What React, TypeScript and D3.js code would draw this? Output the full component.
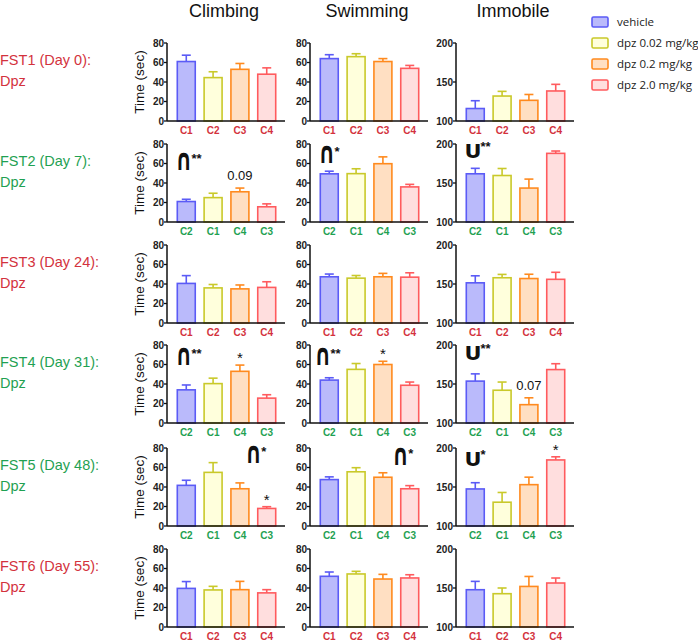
import * as d3 from 'd3';

// --- data ---------------------------------------------------------------
const groups = ['vehicle', 'dpz 0.02 mg/kg', 'dpz 0.2 mg/kg', 'dpz 2.0 mg/kg'];
const measures = ['Climbing', 'Swimming', 'Immobile'];
const sessions = ['FST1 (Day 0):', 'FST2 (Day 7):', 'FST3 (Day 24):', 'FST4 (Day 31):', 'FST5 (Day 48):', 'FST6 (Day 55):'];
const sessionDrug = ['Dpz', 'Dpz', 'Dpz', 'Dpz', 'Dpz', 'Dpz'];
// which cohort order is shown under the bars
const sessionOrder = ['A', 'B', 'A', 'B', 'B', 'A'];
const cohortsA = ['C1', 'C2', 'C3', 'C4'];
const cohortsB = ['C2', 'C1', 'C4', 'C3'];

const climbingMean = [
  [61, 44.5, 53, 48],
  [21, 25, 31, 15.6],
  [40.6, 36, 35, 36.5],
  [34, 40.4, 53, 25.5],
  [41.7, 55, 38.2, 18],
  [39.6, 38, 38.3, 35],
];
const climbingSem = [
  [6.5, 6, 6, 6.5],
  [2.3, 4.5, 3.8, 3],
  [8, 3.5, 4, 5.8],
  [5, 5.6, 6.4, 3.5],
  [5.2, 10, 6, 1.8],
  [7, 3.7, 8.5, 3.3],
];
const swimmingMean = [
  [64, 66, 61, 54],
  [49.4, 49.6, 59.8, 36],
  [47.4, 46, 47.4, 47],
  [44, 55, 60, 38.7],
  [47.6, 55.6, 50, 38.2],
  [52, 54.4, 49.2, 50.3],
];
const swimmingSem = [
  [4, 3, 3, 3],
  [2.7, 5, 7, 2.6],
  [2.8, 2.7, 3.5, 4.5],
  [2.4, 6, 3.3, 3.3],
  [2.8, 4.2, 4.6, 3.2],
  [4.4, 2.7, 4.8, 3.3],
];
const immobileMean = [
  [116, 132, 126.5, 138.5],
  [161.8, 159.6, 143.5, 188],
  [151.5, 158, 157, 156],
  [153.7, 142, 123.5, 168.5],
  [147.5, 130.5, 153, 184.7],
  [147.8, 142.7, 152, 156.4],
];
const immobileSem = [
  [10, 6, 7.5, 8.5],
  [7, 9, 11.5, 3],
  [9, 4.3, 5.5, 9],
  [9.3, 10.5, 8.8, 7.5],
  [8, 12.5, 9.6, 4],
  [10.7, 7.3, 12.8, 6.4],
];
const means = [climbingMean, swimmingMean, immobileMean];
const sems = [climbingSem, swimmingSem, immobileSem];
const domains: [number, number][] = [[0, 80], [0, 80], [100, 200]];
const ticks = [[0, 20, 40, 60, 80], [0, 20, 40, 60, 80], [100, 150, 200]];

// quadratic trend marks: row, col, symbol, stars, bar-index anchor, value anchor
const trends = [
  { row: 1, col: 0, sym: '∩', stars: '**', at: -0.4, v: 53 },
  { row: 1, col: 1, sym: '∩', stars: '*', at: -0.4, v: 61 },
  { row: 1, col: 2, sym: 'U', stars: '**', at: -0.4, v: 182 },
  { row: 3, col: 0, sym: '∩', stars: '**', at: -0.4, v: 60 },
  { row: 3, col: 1, sym: '∩', stars: '**', at: -0.55, v: 60 },
  { row: 3, col: 2, sym: 'U', stars: '**', at: -0.4, v: 181 },
  { row: 4, col: 0, sym: '∩', stars: '*', at: 2.2, v: 65 },
  { row: 4, col: 1, sym: '∩', stars: '*', at: 2.35, v: 63 },
  { row: 4, col: 2, sym: 'U', stars: '*', at: -0.4, v: 176.5 },
];
// labels above single bars
const barNotes = [
  { row: 1, col: 0, bar: 2, text: '0.09' },
  { row: 3, col: 0, bar: 2, text: '*' },
  { row: 3, col: 1, bar: 2, text: '*' },
  { row: 3, col: 2, bar: 2, text: '0.07' },
  { row: 4, col: 0, bar: 3, text: '*' },
  { row: 4, col: 2, bar: 3, text: '*' },
];

// --- style --------------------------------------------------------------
const fills = ['#babafb', '#ffffdc', '#ffdfc2', '#ffdede'];
const strokes = ['#5b5bf6', '#c9c92a', '#ff8a1e', '#ff5b5e'];
const red = '#d3323d';
const green = '#1fa152';
const font = "'Liberation Sans', Arial, sans-serif";

const colX = [167, 310, 456];
const rowTop = [43, 144, 245, 345, 448, 549];
const plotH = 78;
const plotW = 118;

function Panel({ row, col }: { row: number; col: number }) {
  const x0 = colX[col];
  const top = rowTop[row];
  const bottom = top + plotH;
  const labels = sessionOrder[row] === 'A' ? cohortsA : cohortsB;
  const labColor = sessionOrder[row] === 'A' ? red : green;
  const x = d3.scaleBand<number>().domain([0, 1, 2, 3]).range([x0 + 6, x0 + 113]).paddingInner(0.33).paddingOuter(0.16);
  const y = d3.scaleLinear().domain(domains[col]).range([bottom, top]);
  const m = means[col][row];
  const s = sems[col][row];
  const bw = x.bandwidth();
  const cx = (i: number) => (x(0) ?? 0) + bw / 2 + i * x.step();

  return (
    <g style={{ fontFamily: font }}>
      {m.map((v, i) => {
        const bx = x(i) ?? 0;
        const c = bx + bw / 2;
        const yt = y(v);
        const ye = y(v + s[i]);
        return (
          <g key={i}>
            <line x1={c} x2={c} y1={yt} y2={ye} stroke={strokes[i]} strokeWidth={1.6} />
            <line x1={c - 4.5} x2={c + 4.5} y1={ye} y2={ye} stroke={strokes[i]} strokeWidth={1.6} />
            <rect x={bx} y={yt} width={bw} height={bottom - yt} fill={fills[i]} stroke={strokes[i]} strokeWidth={1.6} />
          </g>
        );
      })}
      {/* axes */}
      <line x1={x0} x2={x0} y1={top} y2={bottom} stroke="#111" strokeWidth={1.5} />
      <line x1={x0} x2={x0 + plotW} y1={bottom} y2={bottom} stroke="#111" strokeWidth={1.6} />
      {ticks[col].map((t) => (
        <g key={t}>
          <line x1={x0 - 3} x2={x0} y1={y(t)} y2={y(t)} stroke="#111" strokeWidth={1.3} />
          <text x={x0 - 3} y={y(t) + 3.5} textAnchor="end" fontSize={10} fontWeight="bold" fill="#222">
            {t}
          </text>
        </g>
      ))}
      {labels.map((l, i) => (
        <text key={l} x={(x(i) ?? 0) + bw / 2} y={bottom + 13} textAnchor="middle" fontSize={10} fontWeight="bold" fill={labColor}>
          {l}
        </text>
      ))}
      {trends
        .filter((t) => t.row === row && t.col === col)
        .map((t, k) => (
          <g key={'t' + k} transform={`translate(${cx(t.at)},${y(t.v)})`} fill="#111">
            <text
              transform={t.sym === '∩' ? 'scale(0.95,1.35)' : 'scale(1.05,1)'}
              fontSize={t.sym === '∩' ? 22 : 20}
              fontWeight="bold"
              style={{ fontFamily: "'DejaVu Sans', sans-serif" }}
            >
              {t.sym}
            </text>
            <text x={16} y={-7} fontSize={13} fontWeight="bold">
              {t.stars}
            </text>
          </g>
        ))}
      {barNotes
        .filter((n) => n.row === row && n.col === col)
        .map((n, k) => (
          <text
            key={'n' + k}
            x={cx(n.bar)}
            y={y(m[n.bar] + s[n.bar]) - (n.text === '*' ? 2 : 8)}
            textAnchor="middle"
            fontSize={n.text === '*' ? 15 : 13}
            fill="#111"
          >
            {n.text}
          </text>
        ))}
    </g>
  );
}

export default function App() {
  return (
    <div style={{ position: 'absolute', left: 0, top: 0 }}>
      <svg width={698} height={641} style={{ display: 'block', background: '#fff', fontFamily: font }}>
        {measures.map((name, c) => (
          <text key={name} x={colX[c] + plotW / 2 - 2} y={17} textAnchor="middle" fontSize={18} fill="#111">
            {name}
          </text>
        ))}
        {sessions.map((s, r) => {
          const color = sessionOrder[r] === 'A' ? red : green;
          const mid = rowTop[r] + plotH / 2;
          return (
            <g key={s}>
              <text x={0} y={mid - 17} fontSize={14.5} fill={color}>
                {s}
              </text>
              <text x={0} y={mid + 4} fontSize={14.5} fill={color}>
                {sessionDrug[r]}
              </text>
              <text transform={`translate(${144},${mid}) rotate(-90)`} textAnchor="middle" fontSize={13.5} fill="#111">
                Time (sec)
              </text>
            </g>
          );
        })}
        {sessions.map((s, r) => measures.map((m, c) => <Panel key={s + m} row={r} col={c} />))}
        {groups.map((g, i) => (
          <g key={g}>
            <rect x={592} y={17 + i * 21} width={16} height={10} rx={1.5} fill={fills[i]} stroke={strokes[i]} strokeWidth={1.6} />
            <text x={617} y={26 + i * 21} fontSize={11.5} fill="#222" style={{ fontFamily: "'Open Sans', sans-serif" }}>
              {g}
            </text>
          </g>
        ))}
      </svg>
    </div>
  );
}
